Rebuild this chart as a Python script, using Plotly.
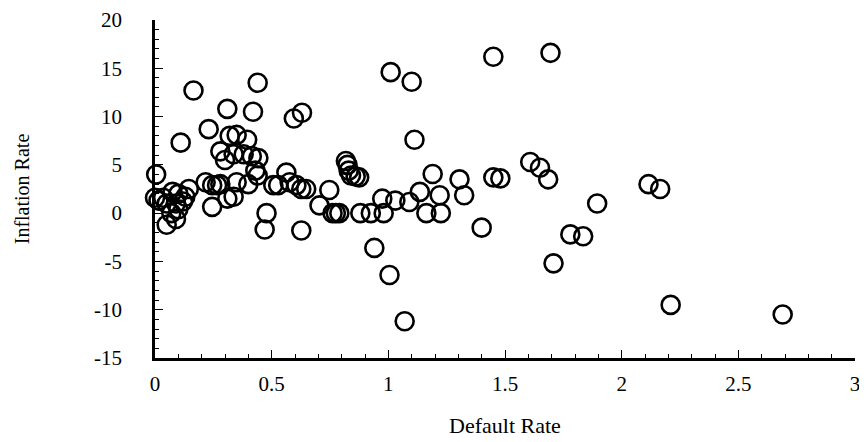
import plotly.graph_objects as go

default_rate = [
    0.005, 0.0, 0.015, 0.035, 0.05, 0.075, 0.09, 0.10, 0.12, 0.13,
    0.07, 0.10, 0.145, 0.05, 0.09, 0.165, 0.11, 0.23, 0.31, 0.42,
    0.44, 0.595, 0.63, 0.32, 0.35, 0.395, 0.28, 0.30, 0.337, 0.38,
    0.415, 0.443, 0.43, 0.44, 0.35, 0.40, 0.217, 0.245, 0.266, 0.28,
    0.245, 0.31, 0.337, 0.563, 0.507, 0.528, 0.577, 0.606, 0.627, 0.648,
    0.478, 0.47, 0.627, 0.705, 0.747, 0.761, 0.775, 0.79, 0.818, 0.825,
    0.83, 0.84, 0.86, 0.875, 0.88, 0.925, 0.98, 0.974, 1.03, 1.09,
    1.135, 1.22, 1.163, 1.225, 1.19, 1.305, 1.325, 1.112, 1.40, 0.94,
    1.005, 1.07, 1.01, 1.10, 1.45, 1.695, 1.45, 1.48, 1.608, 1.65,
    1.685, 2.115, 2.165, 1.895, 1.78, 1.835, 1.708, 2.21, 2.69,
]
inflation_rate = [
    4.0, 1.6, 1.3, 1.6, 1.0, 2.2, 1.0, 2.0, 1.2, 1.7,
    0.0, 0.4, 2.5, -1.2, -0.6, 12.7, 7.3, 8.7, 10.8, 10.5,
    13.5, 9.8, 10.4, 8.0, 8.1, 7.6, 6.4, 5.5, 6.1, 6.1,
    5.9, 5.7, 4.4, 3.9, 3.2, 3.0, 3.2, 2.9, 2.9, 3.0,
    0.65, 1.5, 1.7, 4.2, 2.9, 2.9, 3.2, 2.9, 2.5, 2.5,
    0.0, -1.7, -1.8, 0.8, 2.4, 0.0, 0.0, 0.0, 5.4, 5.0,
    4.4, 3.9, 3.8, 3.7, 0.0, 0.0, 0.0, 1.5, 1.3, 1.15,
    2.2, 1.85, 0.0, 0.0, 4.05, 3.5, 1.85, 7.6, -1.5, -3.6,
    -6.4, -11.2, 14.6, 13.6, 16.2, 16.6, 3.7, 3.6, 5.3, 4.7,
    3.5, 3.0, 2.5, 1.0, -2.2, -2.4, -5.2, -9.5, -10.5,
]

x_ticks = [0, 0.5, 1, 1.5, 2, 2.5, 3]
x_tick_labels = ["0", "0.5", "1", "1.5", "2", "2.5", "3"]
y_ticks = [-15, -10, -5, 0, 5, 10, 15, 20]
y_tick_labels = ["-15", "-10", "-5", "0", "5", "10", "15", "20"]

font_family = "Liberation Serif, Times New Roman, serif"

fig = go.Figure()
fig.add_trace(go.Scatter(
    x=default_rate, y=inflation_rate, mode="markers",
    marker=dict(symbol="circle-open", size=18, color="black",
                line=dict(width=2.6, color="black")),
    cliponaxis=False, showlegend=False,
))

# the page body adds an 8px offset, so margins are shifted to compensate
fig.update_layout(
    width=867, height=442,
    margin=dict(l=147, r=20, t=12, b=92),
    paper_bgcolor="white", plot_bgcolor="white",
    font=dict(family=font_family, color="black", size=21),
)
fig.update_xaxes(
    range=[0, 3], tickvals=x_ticks, ticktext=x_tick_labels,
    showline=True, linecolor="black", linewidth=2.5, mirror=False,
    showgrid=False, zeroline=False, automargin=False,
    ticks="inside", ticklen=8, tickwidth=1, tickcolor="black",
    minor=dict(dtick=0.1, ticks="inside", ticklen=4, tickwidth=1, tickcolor="black", showgrid=False),
    ticklabelstandoff=5, ticklabeloverflow="allow",
    tickfont=dict(size=21, family=font_family),
    title=dict(text="Default Rate", font=dict(size=22, family=font_family), standoff=23),
)
fig.update_yaxes(
    range=[-15, 20], tickvals=y_ticks, ticktext=y_tick_labels,
    showline=True, linecolor="black", linewidth=2.5, mirror=False,
    showgrid=False, zeroline=False, automargin=False,
    ticks="inside", ticklen=8, tickwidth=1, tickcolor="black",
    minor=dict(dtick=1, ticks="inside", ticklen=4, tickwidth=1, tickcolor="black", showgrid=False),
    ticklabelstandoff=26, ticklabeloverflow="allow",
    tickfont=dict(size=21, family=font_family),
    title=dict(text="Inflation Rate", font=dict(size=20, family=font_family), standoff=60),
)

fig.write_html("out.html")
